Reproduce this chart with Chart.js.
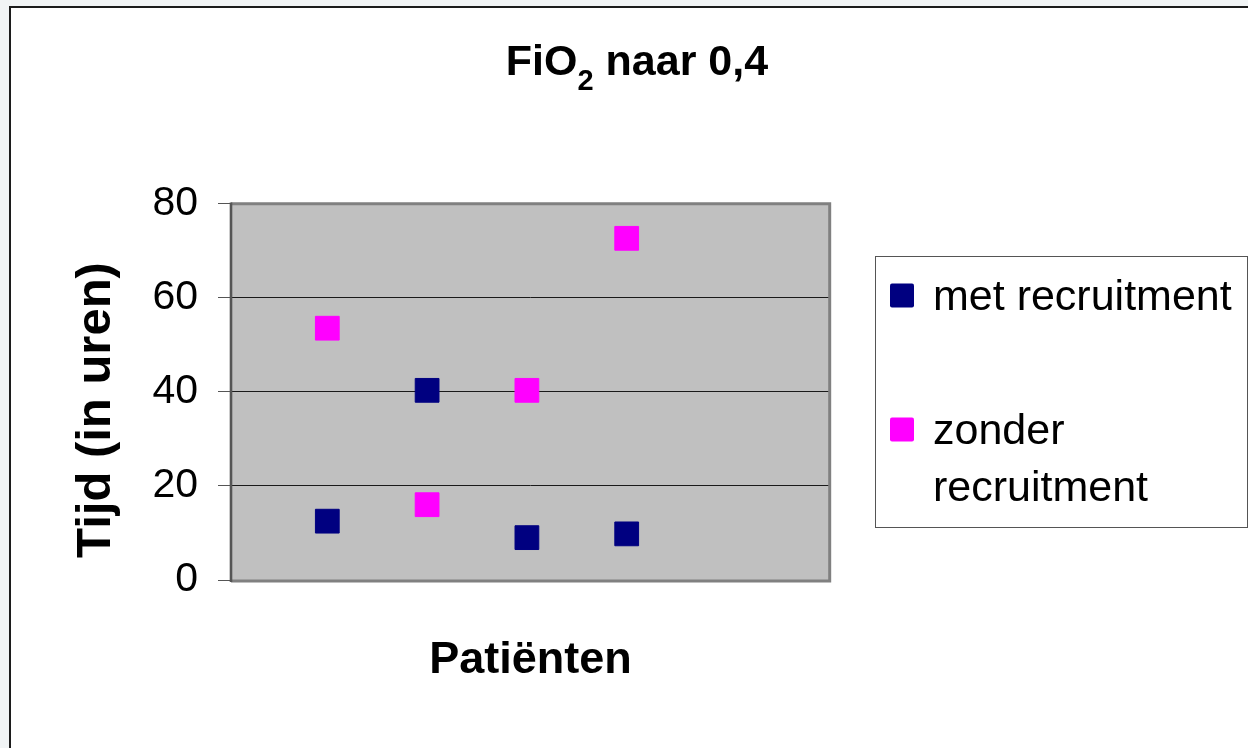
<!DOCTYPE html>
<html>
<head>
<meta charset="utf-8">
<script src="https://cdn.jsdelivr.net/npm/chart.js@4/dist/chart.umd.min.js"></script>
<style>
html,body{margin:0;padding:0;width:1248px;height:748px;overflow:hidden;background:#f1f4f5;}
#frame{position:absolute;left:9px;top:6px;width:1300px;height:800px;background:#ffffff;border-left:2px solid #1c1c1c;border-top:2px solid #1c1c1c;}
#c{position:absolute;left:0;top:0;}
</style>
</head>
<body>
<div id="frame"></div>
<canvas id="c" width="1248" height="748"></canvas>
<script>
// ---- data ----
const patients = [1, 2, 3, 4];
const metRecruitment = [12.5, 40.3, 9, 9.8];
const zonderRecruitment = [53.5, 16, 40.3, 72.6];
const yTicks = [0, 20, 40, 60, 80];
const seriesLabels = ['met recruitment', 'zonder recruitment'];
const seriesColors = ['#000080', '#FF00FF'];
const titleMain = 'FiO';
const titleSub = '2';
const titleRest = ' naar 0,4';
const yTitle = 'Tijd (in uren)';
const xTitle = 'Patiënten';

const FONT = "'Liberation Sans', Arial, sans-serif";

function toPoints(xs, ys) { return xs.map((x, i) => ({ x: x, y: ys[i] })); }

const decorPlugin = {
  id: 'decor',
  beforeDraw(chart) {
    const { ctx, chartArea: a } = chart;
    ctx.save();
    ctx.fillStyle = '#C0C0C0';
    ctx.fillRect(a.left, a.top, a.right - a.left, a.bottom - a.top);
    ctx.restore();
  },
  beforeDatasetsDraw(chart) {
    const { ctx, chartArea: a } = chart;
    ctx.save();
    ctx.lineWidth = 3;
    ctx.strokeStyle = '#808080';
    ctx.beginPath();
    ctx.moveTo(a.left, a.top + 0.2);
    ctx.lineTo(a.right - 0.3, a.top + 0.2);
    ctx.lineTo(a.right - 0.3, a.bottom + 1);
    ctx.lineTo(a.left, a.bottom + 1);
    ctx.stroke();
    ctx.strokeStyle = '#555555';
    ctx.lineWidth = 2.6;
    ctx.beginPath();
    ctx.moveTo(a.left, a.top - 1);
    ctx.lineTo(a.left, a.bottom + 2);
    ctx.stroke();
    ctx.restore();
  },
  afterDraw(chart) {
    const { ctx } = chart;
    ctx.save();
    ctx.fillStyle = '#000';
    // Title with subscript
    const big = 'bold 43px ' + FONT;
    const small = 'bold 29px ' + FONT;
    ctx.font = big;
    const w1 = ctx.measureText(titleMain).width;
    const w3 = ctx.measureText(titleRest).width;
    ctx.font = small;
    const w2 = ctx.measureText(titleSub).width;
    let x = 637 - (w1 + w2 + w3) / 2;
    ctx.textBaseline = 'alphabetic';
    ctx.textAlign = 'left';
    ctx.font = big; ctx.fillText(titleMain, x, 75); x += w1;
    ctx.font = small; ctx.fillText(titleSub, x, 90); x += w2;
    ctx.font = big; ctx.fillText(titleRest, x, 75);

    // Y axis title (rotated)
    ctx.save();
    ctx.translate(110, 410);
    ctx.rotate(-Math.PI / 2);
    ctx.font = 'bold 49px ' + FONT;
    ctx.textAlign = 'center';
    ctx.fillText(yTitle, 0, 0);
    ctx.restore();

    // Legend
    const bx = 875.5, by = 256.5, bw = 372, bh = 271;
    ctx.fillStyle = '#ffffff';
    ctx.fillRect(bx, by, bw, bh);
    ctx.strokeStyle = '#555';
    ctx.lineWidth = 1;
    ctx.strokeRect(bx, by, bw, bh);
    ctx.font = '43px ' + FONT;
    const lineH = 56.7;
    const itemBase = [310, 444];
    const maxW = 310;
    chart.data.datasets.forEach((ds, i) => {
      const words = ds.label.split(' ');
      const lines = [];
      let cur = '';
      words.forEach(wd => {
        const test = cur ? cur + ' ' + wd : wd;
        if (ctx.measureText(test).width > maxW && cur) { lines.push(cur); cur = wd; }
        else cur = test;
      });
      lines.push(cur);
      const base = itemBase[i];
      ctx.fillStyle = ds.backgroundColor;
      const s = 24, cy = base - 14.5;
      ctx.beginPath();
      if (ctx.roundRect) ctx.roundRect(890, cy - s / 2, s, s, 2); else ctx.rect(890, cy - s / 2, s, s);
      ctx.fill();
      ctx.fillStyle = '#000';
      lines.forEach((ln, k) => ctx.fillText(ln, 933, base + k * lineH));
    });
    ctx.restore();
  }
};

new Chart(document.getElementById('c'), {
  type: 'scatter',
  data: {
    datasets: [
      {
        label: seriesLabels[0],
        data: toPoints(patients, metRecruitment),
        backgroundColor: seriesColors[0],
        borderColor: seriesColors[0],
        borderWidth: 1,
        pointStyle: 'rect',
        pointRadius: 16.8,
        pointHoverRadius: 16.8
      },
      {
        label: seriesLabels[1],
        data: toPoints(patients, zonderRecruitment),
        backgroundColor: seriesColors[1],
        borderColor: seriesColors[1],
        borderWidth: 1,
        pointStyle: 'rect',
        pointRadius: 16.8,
        pointHoverRadius: 16.8
      }
    ]
  },
  options: {
    responsive: false,
    animation: false,
    events: [],
    layout: { padding: { left: 0, top: 203.5, right: 418, bottom: 0 } },
    plugins: {
      legend: { display: false },
      title: { display: false },
      tooltip: { enabled: false }
    },
    scales: {
      x: {
        type: 'linear',
        min: 0.035,
        max: 6.037,
        grid: { display: false },
        border: { display: false },
        ticks: { display: false },
        title: {
          display: true,
          text: xTitle,
          color: '#000',
          font: { family: FONT, size: 45, weight: 'bold', lineHeight: 1 },
          padding: { top: 0, bottom: 64.5 }
        },
        afterFit(scale) { scale.height = 168; }
      },
      y: {
        type: 'linear',
        min: 0,
        max: 80,
        afterBuildTicks(scale) { scale.ticks = yTicks.map(v => ({ value: v })); },
        grid: {
          color: '#1a1a1a',
          lineWidth: 1,
          tickColor: '#555',
          tickLength: 13,
          drawTicks: true
        },
        border: { display: false },
        ticks: {
          color: '#000',
          padding: 20,
          font: { family: FONT, size: 41 }
        },
        afterFit(scale) { scale.width = 231; }
      }
    }
  },
  plugins: [decorPlugin]
});
</script>
</body>
</html>
